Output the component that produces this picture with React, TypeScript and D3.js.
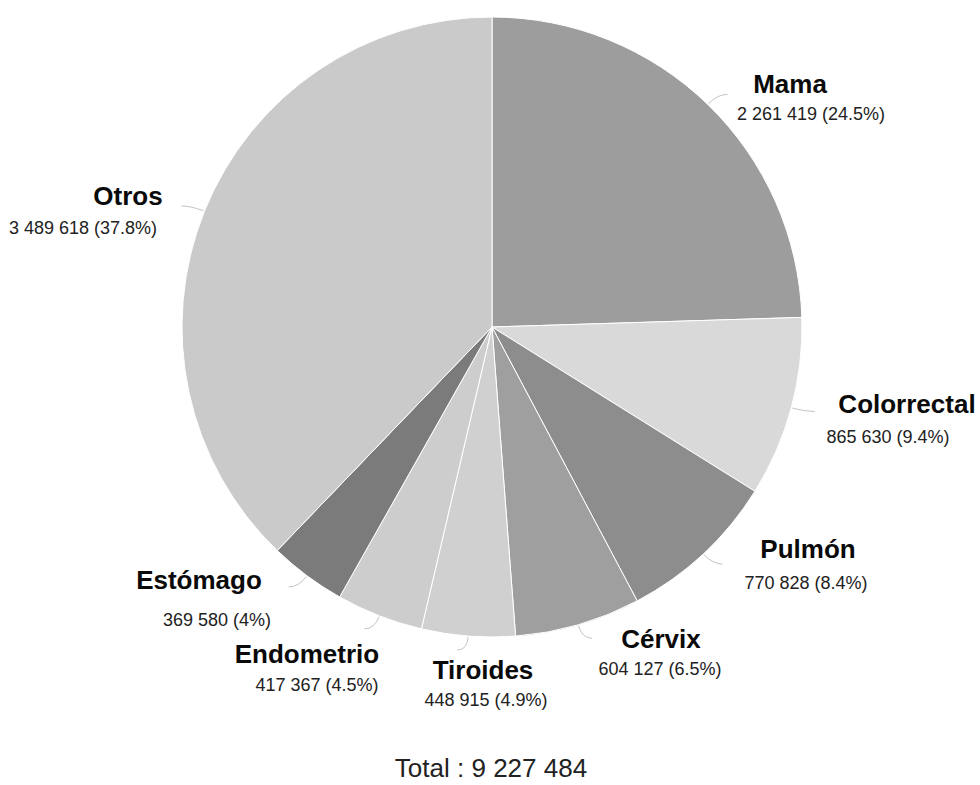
import React from "react";
import * as d3 from "d3";

const categories = ["Mama", "Colorrectal", "Pulmón", "Cérvix", "Tiroides", "Endometrio", "Estómago", "Otros"];
const values = [2261419, 865630, 770828, 604127, 448915, 417367, 369580, 3489618];
const percentLabels = ["24.5%", "9.4%", "8.4%", "6.5%", "4.9%", "4.5%", "4%", "37.8%"];
const sliceColors = ["#9d9d9d", "#d9d9d9", "#8d8d8d", "#9f9f9f", "#d0d0d0", "#cdcdcd", "#7b7b7b", "#cacaca"];

// label layout: [name centre x, name baseline y, value centre x, value baseline y]
const labelLayout: [number, number, number, number][] = [
  [790, 93, 811, 120],
  [907, 413, 888, 443],
  [808, 558, 806, 589],
  [661, 648, 660, 675],
  [483, 679, 486, 706],
  [307, 663, 317, 691],
  [199, 589, 217, 626],
  [128, 205, 83, 234],
];

const W = 980;
const H = 785;
const cx = 492;
const cy = 327;
const R = 310;

const fmt = (v: number) => d3.format(",")(v).replace(/,/g, " ");

export default function App() {
  const total = d3.sum(values);
  const pie = d3.pie<number>().sort(null).value((d) => d);
  const arcs = pie(values);
  const arcGen = d3.arc<d3.PieArcDatum<number>>().innerRadius(0).outerRadius(R);

  const connectors = arcs.map((a) => {
    const mid = (a.startAngle + a.endAngle) / 2;
    const p0 = [Math.sin(mid) * (R + 1), -Math.cos(mid) * (R + 1)];
    const p1 = [Math.sin(mid) * (R + 14), -Math.cos(mid) * (R + 14)];
    const side = Math.sin(mid) >= 0 ? 1 : -1;
    const p2 = [p1[0] + side * 10, p1[1]];
    return `M${p0[0]},${p0[1]} Q${p1[0]},${p1[1]} ${p2[0]},${p2[1]}`;
  });

  return (
    <svg width={W} height={H} style={{ position: "absolute", left: 0, top: 0, background: "#fff" }}
      fontFamily="'Liberation Sans', Arial, sans-serif">
      <rect width={W} height={H} fill="#fff" />
      <g transform={`translate(${cx},${cy})`}>
        {arcs.map((a, i) => (
          <path key={i} d={arcGen(a) || ""} fill={sliceColors[i]} stroke="#fff" strokeWidth={1} />
        ))}
        {connectors.map((d, i) => (
          <path key={"c" + i} d={d} fill="none" stroke="#c4c4c4" strokeWidth={1} />
        ))}
      </g>
      {categories.map((c, i) => {
        const [nx, ny, vx, vy] = labelLayout[i];
        return (
          <g key={"l" + i}>
            <text x={nx} y={ny} textAnchor="middle" fontSize={26} fontWeight="bold" fill="#0a0a0a">{c}</text>
            <text x={vx} y={vy} textAnchor="middle" fontSize={18} fill="#222">
              {`${fmt(values[i])} (${percentLabels[i]})`}
            </text>
          </g>
        );
      })}
      <text x={491} y={777} textAnchor="middle" fontSize={26} fill="#222">{`Total : ${fmt(total)}`}</text>
    </svg>
  );
}
